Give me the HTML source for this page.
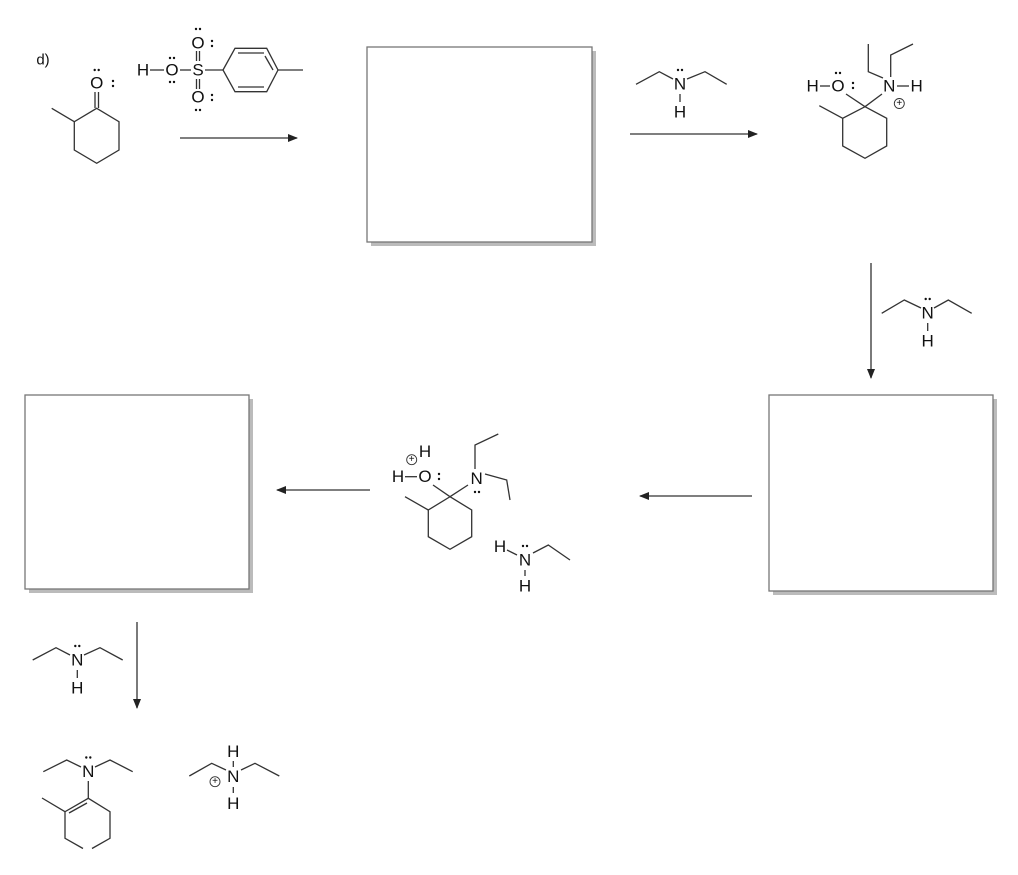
<!DOCTYPE html>
<html><head><meta charset="utf-8"><style>
html,body{margin:0;padding:0;background:#fff;}
svg{display:block;}
text{font-family:"Liberation Sans",sans-serif;font-size:17px;fill:#111;text-anchor:middle;dominant-baseline:central;}
.s{font-size:10px;}
line,polyline,polygon{stroke:#333;stroke-width:1.3;fill:none;}
.d{fill:#111;stroke:none;}
</style></head><body>
<svg width="1018" height="875" viewBox="0 0 1018 875" xmlns="http://www.w3.org/2000/svg">
<defs><marker id="a" markerWidth="10" markerHeight="8" refX="9" refY="4" orient="auto" markerUnits="userSpaceOnUse"><path d="M0,0 L10,4 L0,8 Z" fill="#222"/></marker></defs>

<rect x="371" y="51" width="225" height="195" fill="#bbb" stroke="none"/>
<rect x="367" y="47" width="225" height="195" fill="#fff" stroke="#777" stroke-width="1.3"/>
<rect x="773" y="399" width="224" height="196" fill="#bbb" stroke="none"/>
<rect x="769" y="395" width="224" height="196" fill="#fff" stroke="#777" stroke-width="1.3"/>
<rect x="29" y="399" width="224" height="194" fill="#bbb" stroke="none"/>
<rect x="25" y="395" width="224" height="194" fill="#fff" stroke="#777" stroke-width="1.3"/>

<line x1="180" y1="138" x2="297" y2="138" marker-end="url(#a)"/>
<line x1="630" y1="134" x2="757" y2="134" marker-end="url(#a)"/>
<line x1="871" y1="263" x2="871" y2="378" marker-end="url(#a)"/>
<line x1="752" y1="496" x2="640" y2="496" marker-end="url(#a)"/>
<line x1="370" y1="490" x2="277" y2="490" marker-end="url(#a)"/>
<line x1="137" y1="622" x2="137" y2="708" marker-end="url(#a)"/>

<text x="43" y="60" style="font-size:15px">d)</text>
<polygon points="96.7,108.3 119,121.7 119,150 96.7,163.3 74.3,150 74.3,121.7"/>
<line x1="74.3" y1="121.7" x2="51.7" y2="108.3"/>
<line x1="95" y1="108" x2="95" y2="92"/><line x1="98.5" y1="108" x2="98.5" y2="92"/>
<text x="96.7" y="83">O</text>
<circle class="d" cx="94.7" cy="70" r="1.2"/><circle class="d" cx="98.7" cy="70" r="1.2"/>
<circle class="d" cx="113" cy="81" r="1.2"/><circle class="d" cx="113" cy="86" r="1.2"/>

<text x="143" y="70">H</text><line x1="150" y1="70" x2="164" y2="70"/>
<text x="172" y="70">O</text><line x1="180" y1="70" x2="191" y2="70"/>
<circle class="d" cx="170" cy="58" r="1.2"/><circle class="d" cx="174" cy="58" r="1.2"/>
<circle class="d" cx="170" cy="82" r="1.2"/><circle class="d" cx="174" cy="82" r="1.2"/>
<text x="198" y="70">S</text>
<line x1="196.5" y1="61" x2="196.5" y2="51"/><line x1="199.5" y1="61" x2="199.5" y2="51"/>
<line x1="196.5" y1="79" x2="196.5" y2="89"/><line x1="199.5" y1="79" x2="199.5" y2="89"/>
<text x="198" y="43">O</text><text x="198" y="97">O</text>
<circle class="d" cx="196" cy="29" r="1.2"/><circle class="d" cx="200" cy="29" r="1.2"/>
<circle class="d" cx="212" cy="41" r="1.2"/><circle class="d" cx="212" cy="46" r="1.2"/>
<circle class="d" cx="196" cy="110" r="1.2"/><circle class="d" cx="200" cy="110" r="1.2"/>
<circle class="d" cx="212" cy="95" r="1.2"/><circle class="d" cx="212" cy="100" r="1.2"/>
<line x1="205" y1="70" x2="223" y2="70"/>
<polygon points="223,70 235,48.3 266.7,48.3 278,70 266.7,91.7 235,91.7"/>
<line x1="238" y1="53" x2="264" y2="53"/><line x1="238" y1="87" x2="264" y2="87"/><line x1="273" y1="70" x2="265" y2="56"/>
<line x1="278" y1="70" x2="303" y2="70"/>

<polyline points="636,84.3 659.3,71.7 673,79"/><polyline points="687,79 705,71.7 726.7,84.3"/>
<text x="680" y="84">N</text><line x1="680" y1="94" x2="680" y2="102"/><text x="680" y="112">H</text>
<circle class="d" cx="678" cy="70" r="1.2"/><circle class="d" cx="682" cy="70" r="1.2"/>

<polygon points="865,106.7 886.7,118.3 886.7,146 865,158.3 842.7,146 842.7,118.3"/>
<line x1="842.7" y1="118.3" x2="819.3" y2="105.7"/>
<line x1="865" y1="106.7" x2="846" y2="94"/><line x1="865" y1="106.7" x2="882" y2="94"/>
<text x="812.7" y="86">H</text><line x1="820" y1="86" x2="830" y2="86"/><text x="838" y="86">O</text>
<circle class="d" cx="836" cy="73" r="1.2"/><circle class="d" cx="840" cy="73" r="1.2"/>
<circle class="d" cx="853" cy="83" r="1.2"/><circle class="d" cx="853" cy="88" r="1.2"/>
<text x="889.3" y="86">N</text><line x1="897" y1="86" x2="909" y2="86"/><text x="916.7" y="86">H</text>
<polyline points="883,78 868.3,71.7 868.3,44"/><polyline points="890.7,77 890.7,55 913,44"/>
<circle cx="899.3" cy="103.5" r="5" stroke="#333" stroke-width="0.9" fill="none"/><text class="s" x="899.3" y="103.5">+</text>

<polyline points="881.7,313.3 904.3,300 921,308"/><polyline points="934,308 948.3,300 971.7,313.3"/>
<text x="927.7" y="313">N</text><line x1="927.7" y1="323" x2="927.7" y2="331"/><text x="927.7" y="341">H</text>
<circle class="d" cx="925.7" cy="299" r="1.2"/><circle class="d" cx="929.7" cy="299" r="1.2"/>

<polygon points="450,496.7 471.7,510 471.7,536.7 450,549.3 428.3,536.7 428.3,510"/>
<line x1="428.3" y1="510" x2="405" y2="496.7"/>
<line x1="450" y1="496.7" x2="433" y2="485"/><line x1="450" y1="496.7" x2="468" y2="485"/>
<text x="398" y="476.7">H</text><line x1="405" y1="476.7" x2="417" y2="476.7"/><text x="425" y="476.7">O</text>
<text x="425" y="451.7">H</text>
<circle cx="411.7" cy="459.7" r="5" stroke="#333" stroke-width="0.9" fill="none"/><text class="s" x="411.7" y="459.7">+</text>
<circle class="d" cx="439" cy="474" r="1.2"/><circle class="d" cx="439" cy="479" r="1.2"/>
<text x="476.7" y="478.3">N</text>
<circle class="d" cx="475" cy="492" r="1.2"/><circle class="d" cx="479" cy="492" r="1.2"/>
<polyline points="475,469 475,445 498.3,434"/><polyline points="485,474 506.7,480 510,500"/>

<text x="500" y="546.7">H</text><line x1="507" y1="550" x2="517" y2="555"/>
<text x="525" y="560">N</text>
<circle class="d" cx="523" cy="546" r="1.2"/><circle class="d" cx="527" cy="546" r="1.2"/>
<line x1="525" y1="570" x2="525" y2="576"/><text x="525" y="586">H</text>
<polyline points="533,553 548.3,545 570,560"/>

<polyline points="32.7,660 56,647.7 70,655"/><polyline points="84,655 100,647.7 122.7,660"/>
<text x="77.3" y="660">N</text><line x1="77.3" y1="670" x2="77.3" y2="678"/><text x="77.3" y="688">H</text>
<circle class="d" cx="75.3" cy="646" r="1.2"/><circle class="d" cx="79.3" cy="646" r="1.2"/>

<polyline points="43.3,771.7 66.7,760 81,767"/><polyline points="95,767 110,760 132.7,771.7"/>
<text x="88.3" y="771.7">N</text>
<circle class="d" cx="86.3" cy="757.5" r="1.2"/><circle class="d" cx="90.3" cy="757.5" r="1.2"/>
<line x1="88.3" y1="781" x2="88.3" y2="798.3"/>
<polyline points="83,848.5 65,838.3 65,811.7 88.3,798.3 110,811.7 110,838.3 92,848.5"/>
<line x1="69" y1="813" x2="87" y2="803"/>
<line x1="65" y1="811.7" x2="42" y2="798"/>

<polyline points="189.3,776 211.7,763.3 226,770"/><polyline points="241,770 255,763.3 279.3,776"/>
<text x="233.3" y="776.7">N</text>
<text x="233.3" y="751.7">H</text><line x1="233.3" y1="761" x2="233.3" y2="767"/>
<line x1="233.3" y1="787" x2="233.3" y2="793"/><text x="233.3" y="803.3">H</text>
<circle cx="215" cy="781.7" r="5" stroke="#333" stroke-width="0.9" fill="none"/><text class="s" x="215" y="781.7">+</text>
</svg>
</body></html>
